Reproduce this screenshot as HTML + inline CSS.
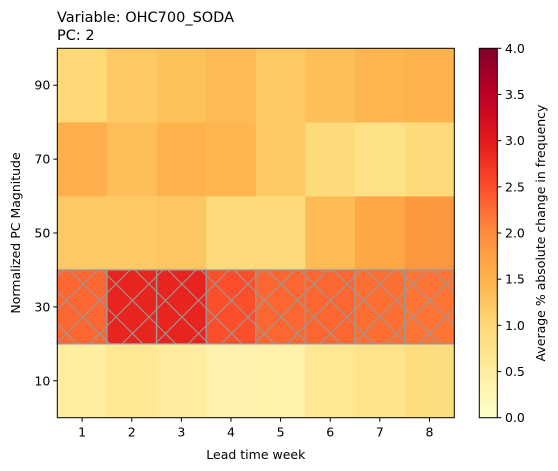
<!DOCTYPE html>
<html><head><meta charset="utf-8">
<style>
html,body{margin:0;padding:0;background:#fff;}
svg{display:block;font-family:"DejaVu Sans","Liberation Sans",sans-serif;}
</style></head>
<body>
<svg id="chart" width="558" height="471" viewBox="0 0 558 471" xmlns="http://www.w3.org/2000/svg">
<defs>
<pattern id="hatch" patternUnits="userSpaceOnUse" width="33" height="33" x="83" y="317">
<path d="M0,0 L33,33 M33,0 L0,33" stroke="#999" stroke-width="1.1" fill="none"/>
</pattern>
<linearGradient id="cbgrad" x1="0" y1="1" x2="0" y2="0">
<stop offset="0" stop-color="#ffffcc"/><stop offset="0.125" stop-color="#ffeda0"/>
<stop offset="0.25" stop-color="#fed976"/><stop offset="0.375" stop-color="#feb24c"/>
<stop offset="0.5" stop-color="#fd8d3c"/><stop offset="0.625" stop-color="#fc4e2a"/>
<stop offset="0.75" stop-color="#e31a1c"/><stop offset="0.875" stop-color="#bd0026"/>
<stop offset="1" stop-color="#800026"/>
</linearGradient>
</defs>
<text x="57" y="22" font-size="14.5">Variable: OHC700_SODA</text>
<text x="57" y="40" font-size="14.5">PC: 2</text>
<g id="cells"></g>
<g id="hatches"></g>
<rect x="57.3" y="48.3" width="397" height="369.4" fill="none" stroke="#000" stroke-width="1"/>
<g id="xaxis" font-size="12.5"></g>
<g id="yaxis" font-size="12.5"></g>
<text x="255.8" y="459" font-size="12.5" text-anchor="middle">Lead time week</text>
<text transform="translate(20,233) rotate(-90)" font-size="12.5" text-anchor="middle">Normalized PC Magnitude</text>
<rect x="479.3" y="48.3" width="18" height="369.4" fill="url(#cbgrad)" stroke="#000" stroke-width="1"/>
<g id="cbaxis" font-size="12.5"></g>
<text transform="translate(545,233) rotate(-90)" font-size="12.5" text-anchor="middle">Average % absolute change in frequency</text>
</svg>
<script>
const weeks = [1,2,3,4,5,6,7,8];
const magnitudes = [10,30,50,70,90];
const row10 = [0.5,0.65,0.52,0.35,0.4,0.65,0.75,0.9];
const row30 = [2.3,2.9,2.9,2.5,2.3,2.3,2.25,2.2];
const row50 = [1.2,1.2,1.25,0.95,0.95,1.4,1.65,1.85];
const row70 = [1.55,1.35,1.5,1.45,1.2,0.95,0.8,0.95];
const row90 = [1.0,1.2,1.3,1.4,1.2,1.35,1.45,1.5];
const rows = [row10,row30,row50,row70,row90];
const significantRows = [30];
const yTicks = [10,30,50,70,90];
const cbTicks = [0,0.5,1,1.5,2,2.5,3,3.5,4];
const vmax = 4;

const NS = "http://www.w3.org/2000/svg";
const L=57.3,R=454.3,T=48.3,B=417.7;
const xs = w => L + (w-0.5)*(R-L)/8;
const ys = v => B - v*(B-T)/100;
const cbY = v => B - v/vmax*(B-T);
const stops = ["#ffffcc","#ffeda0","#fed976","#feb24c","#fd8d3c","#fc4e2a","#e31a1c","#bd0026","#800026"];
function hex(h){return [1,3,5].map(i=>parseInt(h.substr(i,2),16));}
function cmap(v){
  let t=Math.max(0,Math.min(1,v/vmax))*8; let i=Math.min(7,Math.floor(t)); let f=t-i;
  const a=hex(stops[i]),b=hex(stops[i+1]);
  return "rgb("+a.map((c,k)=>Math.round(c+(b[k]-c)*f)).join(",")+")";
}
function mk(tag,attrs,parent){const e=document.createElementNS(NS,tag);for(const k in attrs)e.setAttribute(k,attrs[k]);parent.appendChild(e);return e;}
const cells=document.getElementById("cells"), hatches=document.getElementById("hatches");
const cw=(R-L)/8;
magnitudes.forEach((m,ri)=>{
  weeks.forEach((w,ci)=>{
    const r=mk("rect",{x:xs(w)-cw/2,y:ys(m+10),width:cw+0.3,height:ys(m-10)-ys(m+10)+0.3,fill:cmap(rows[ri][ci])},cells);
    
    
    if(significantRows.includes(m)){
      const h=mk("rect",{x:xs(w)-cw/2,y:ys(m+10),width:cw,height:ys(m-10)-ys(m+10),fill:"url(#hatch)",stroke:"#999","stroke-width":1.3},hatches);
      
      
    }
  });
});
const xa=document.getElementById("xaxis");
weeks.forEach(w=>{
  const l=mk("line",{x1:xs(w),x2:xs(w),y1:B,y2:B+4,stroke:"#000"},xa);
  
  
  const t=mk("text",{x:xs(w),y:B+19,"text-anchor":"middle"},xa); t.textContent=w;
  
  
});
const ya=document.getElementById("yaxis");
yTicks.forEach(v=>{
  const l=mk("line",{x1:L-4,x2:L,y1:ys(v),y2:ys(v),stroke:"#000"},ya);
  
  
  const t=mk("text",{x:L-7,y:ys(v)+4.5,"text-anchor":"end"},ya); t.textContent=v;
  
  
});
const ca=document.getElementById("cbaxis");
cbTicks.forEach(v=>{
  const l=mk("line",{x1:497.3,x2:501.3,y1:cbY(v),y2:cbY(v),stroke:"#000"},ca);
  
  
  const t=mk("text",{x:505,y:cbY(v)+4.5},ca); t.textContent=v.toFixed(1);
  
  
});
</script>
</body></html>
